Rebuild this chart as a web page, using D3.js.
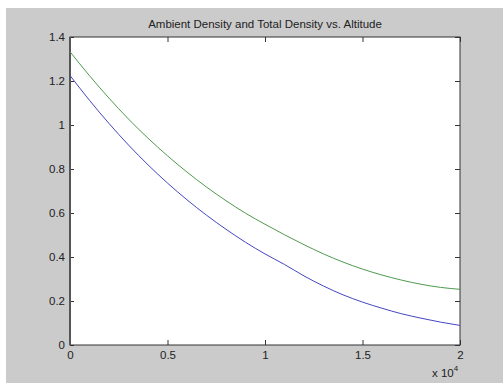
<!DOCTYPE html>
<html>
<head>
<meta charset="utf-8">
<script src="https://cdn.jsdelivr.net/npm/d3@7"></script>
<style>
  body { margin: 0; background: #fff; }
  text { font-family: "Liberation Sans", Arial, sans-serif; fill: #222; }
</style>
</head>
<body>
<svg width="503" height="383"></svg>
<script>
"use strict";

// altitude in metres, densities in kg/m^3
const altitudes = [0, 1000, 2000, 3000, 4000, 5000, 6000, 7000, 8000, 9000, 10000,
    11000, 12000, 13000, 14000, 15000, 16000, 17000, 18000, 19000, 20000];
const ambientDensity = [1.225, 1.112, 1.007, 0.909, 0.819, 0.736, 0.660, 0.590, 0.526, 0.467, 0.414,
    0.366, 0.314, 0.268, 0.228, 0.195, 0.167, 0.142, 0.122, 0.104, 0.089];
const totalDensity = [1.333, 1.224, 1.122, 1.027, 0.940, 0.860, 0.786, 0.718, 0.656, 0.599, 0.549,
    0.501, 0.456, 0.414, 0.377, 0.345, 0.318, 0.295, 0.276, 0.262, 0.253];
const xTicks = [0, 5000, 10000, 15000, 20000];
const yTicks = [0, 0.2, 0.4, 0.6, 0.8, 1, 1.2, 1.4];
const title = "Ambient Density and Total Density vs. Altitude";

const svg = d3.select("svg");
const plot = {left: 70, right: 460, top: 37, bottom: 345};

// figure background
svg.append("rect")
    .attr("x", 6).attr("y", 8)
    .attr("width", 497).attr("height", 375)
    .attr("fill", "#cbcbcb");

const x = d3.scaleLinear().domain([0, 20000]).range([plot.left, plot.right]);
const y = d3.scaleLinear().domain([0, 1.4]).range([plot.bottom, plot.top]);

svg.append("rect")
    .attr("x", plot.left).attr("y", plot.top)
    .attr("width", plot.right - plot.left).attr("height", plot.bottom - plot.top)
    .attr("fill", "#fff");

const fmtX = d => d3.format("")(d / 10000);

const axisStyle = g => {
    g.select(".domain").remove();
    g.selectAll(".tick line").attr("stroke", "#333");
    g.selectAll(".tick text").style("font-size", "11.5px").attr("fill", "#222");
};

// bottom & left with labels, ticks pointing inward
svg.append("g").attr("transform", `translate(0,${plot.bottom})`)
    .call(d3.axisBottom(x).tickValues(xTicks).tickSizeInner(-5).tickSizeOuter(0).tickPadding(6).tickFormat(fmtX))
    .call(axisStyle);
svg.append("g").attr("transform", `translate(${plot.left},0)`)
    .call(d3.axisLeft(y).tickValues(yTicks).tickSizeInner(-4).tickSizeOuter(0).tickPadding(5).tickFormat(d3.format("")))
    .call(axisStyle);
// top & right, ticks only
svg.append("g").attr("transform", `translate(0,${plot.top})`)
    .call(d3.axisTop(x).tickValues(xTicks).tickSizeInner(-5).tickSizeOuter(0).tickFormat(""))
    .call(axisStyle);
svg.append("g").attr("transform", `translate(${plot.right},0)`)
    .call(d3.axisRight(y).tickValues(yTicks).tickSizeInner(-5).tickSizeOuter(0).tickFormat(""))
    .call(axisStyle);

// box
svg.append("rect")
    .attr("x", plot.left).attr("y", plot.top)
    .attr("width", plot.right - plot.left).attr("height", plot.bottom - plot.top)
    .attr("fill", "none").attr("stroke", "#333").attr("stroke-width", 1);
svg.append("line")
    .attr("x1", plot.left).attr("x2", plot.left)
    .attr("y1", plot.top).attr("y2", plot.bottom)
    .attr("stroke", "#555").attr("stroke-width", 2);

const line = d3.line().curve(d3.curveMonotoneX)
    .x((d, i) => x(altitudes[i]))
    .y(d => y(d));

svg.append("path").datum(totalDensity)
    .attr("d", line).attr("fill", "none")
    .attr("stroke", "#4f9a4f").attr("stroke-width", 1);
svg.append("path").datum(ambientDensity)
    .attr("d", line).attr("fill", "none")
    .attr("stroke", "#4646c0").attr("stroke-width", 1);

svg.append("text")
    .attr("x", (plot.left + plot.right) / 2).attr("y", 28)
    .attr("text-anchor", "middle")
    .style("font-size", "11.5px")
    .text(title);

// exponent label
const expo = svg.append("text")
    .attr("x", 432).attr("y", 377)
    .style("font-size", "11.5px");
expo.append("tspan").text("x 10");
expo.append("tspan").attr("dy", -6).style("font-size", "8px").text("4");
</script>
</body>
</html>
